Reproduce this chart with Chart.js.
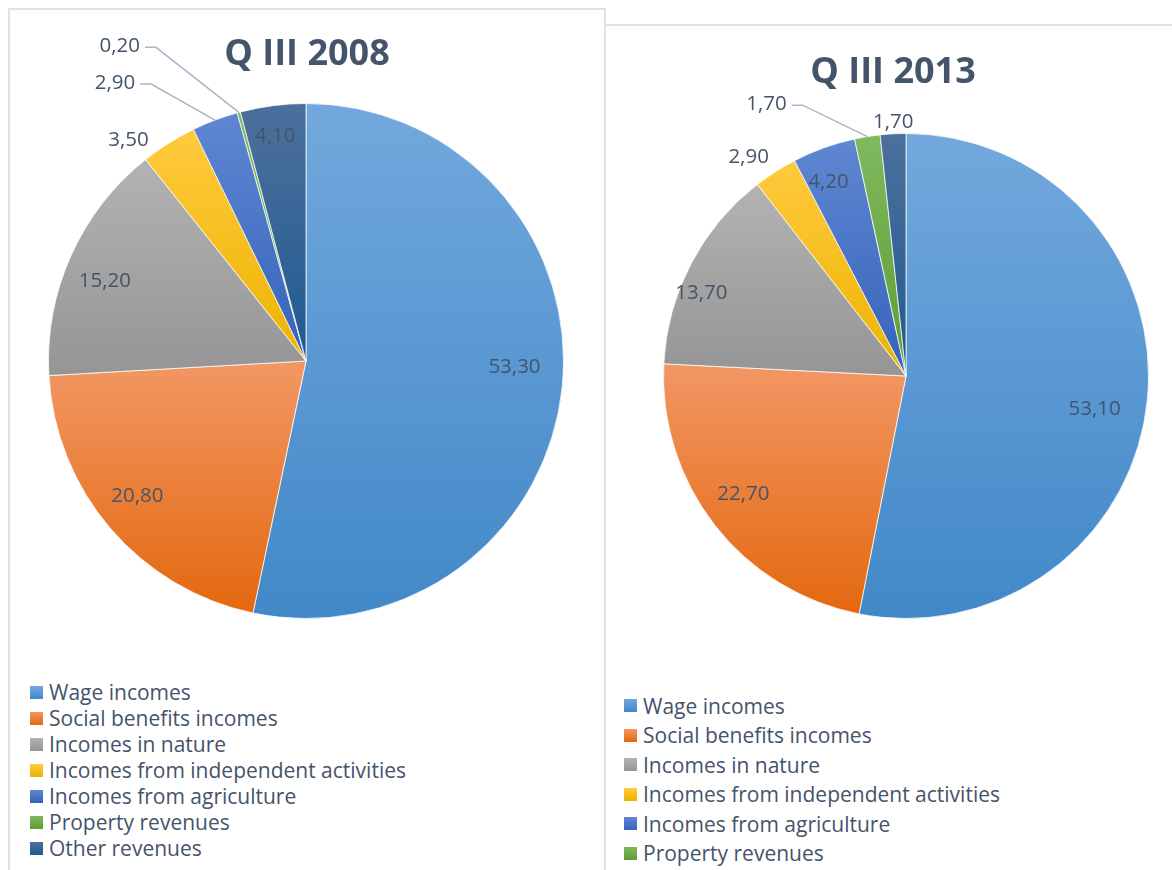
<!DOCTYPE html>
<html><head><meta charset="utf-8">
<script src="https://cdn.jsdelivr.net/npm/chart.js@4.4.1/dist/chart.umd.min.js"></script>
<style>
html,body{margin:0;padding:0;background:#fff;width:1172px;height:870px;overflow:hidden;position:relative;font-family:'Open Sans',sans-serif;}
.panel{position:absolute;box-sizing:border-box;border-color:#DCE2E9;border-style:solid;}
#p1{left:8px;top:8px;width:598px;height:900px;border-width:2px 2px 0 2px;}
#p2{left:604px;top:24px;width:600px;height:900px;border-width:2px 0 0 2px;}
canvas{position:absolute;}
.legend{position:absolute;margin:0;padding:0;list-style:none;color:#44546A;font-size:21px;font-family:'Open Sans',sans-serif;}
.legend li{display:flex;align-items:center;white-space:nowrap;}
.legend i{display:inline-block;width:13px;height:13px;margin-right:6px;flex:none;}
</style></head><body>
<div class="panel" id="p1"></div><div class="panel" id="p2"></div>
<canvas id="c1" width="595" height="640" style="left:10px;top:8px"></canvas>
<canvas id="c2" width="565" height="640" style="left:607px;top:26px"></canvas>
<ul class="legend" id="lg1" style="left:30px;top:679px"></ul>
<ul class="legend" id="lg2" style="left:624px;top:691px"></ul>
<script>
const categories = ['Wage incomes','Social benefits incomes','Incomes in nature','Incomes from independent activities','Incomes from agriculture','Property revenues','Other revenues'];
const values2008 = [53.3, 20.8, 15.2, 3.5, 2.9, 0.2, 4.1];
const values2013 = [53.1, 22.7, 13.7, 2.9, 4.2, 1.7, 1.7];
const title2008 = 'Q III 2008';
const title2013 = 'Q III 2013';
const topColors = ['#72A8DD','#F29764','#B3B3B3','#FFCA3E','#5F87D2','#80B95F','#4D709C'];
const bottomColors = ['#4288C8','#E4680F','#959595','#EDB300','#3563BA','#5E9C34','#1F5A91'];

const fmt = v => v.toFixed(2).replace('.', ',');

function sliceGradient(c){
  const chart = c.chart, a = chart.chartArea;
  const i = c.dataIndex;
  if(!a) return bottomColors[i];
  const data = c.dataset.data; const total = data.reduce((s,v)=>s+v,0);
  let before = 0; for(let j=0;j<i;j++) before += data[j];
  const s = -Math.PI/2 + before/total*2*Math.PI, e = s + data[i]/total*2*Math.PI;
  const cx=(a.left+a.right)/2, cy=(a.top+a.bottom)/2, R=Math.min(a.width,a.height)/2;
  const ys=[cy, cy+R*Math.sin(s), cy+R*Math.sin(e)];
  for(const t of [-Math.PI/2, Math.PI/2, 3*Math.PI/2]) if(t>=s-1e-9 && t<=e+1e-9) ys.push(cy+R*Math.sin(t));
  const y0=Math.min(...ys), y1=Math.max(...ys);
  const g = chart.ctx.createLinearGradient(0,y0,0,Math.max(y1,y0+1));
  g.addColorStop(0, topColors[i]); g.addColorStop(1, bottomColors[i]);
  return g;
}

const panelTitle = {
  id:'panelTitle',
  afterDraw(chart, args, o){
    const a = chart.chartArea, ctx = chart.ctx;
    ctx.save();
    ctx.font = o.font; ctx.fillStyle = o.color; ctx.textAlign='center'; ctx.textBaseline='middle';
    ctx.fillText(o.text, (a.left+a.right)/2 + o.dx, a.top - o.gap);
    ctx.restore();
  }
};

const sliceLabels = {
  id:'sliceLabels',
  afterDatasetsDraw(chart, args, o){
    const meta = chart.getDatasetMeta(0), ctx = chart.ctx;
    ctx.save();
    ctx.font = o.font; ctx.fillStyle = o.color; ctx.textAlign='center'; ctx.textBaseline='middle';
    meta.data.forEach((arc,i)=>{
      const p = o.place[i];
      const {x,y,startAngle,endAngle,outerRadius} = arc.getProps(['x','y','startAngle','endAngle','outerRadius'], true);
      const mid = (startAngle+endAngle)/2;
      const ang = mid + p.da*Math.PI/180;
      const lx = x + Math.cos(ang)*outerRadius*p.k, ly = y + Math.sin(ang)*outerRadius*p.k;
      const txt = fmt(chart.data.datasets[0].data[i]);
      if(p.leader){
        const w = ctx.measureText(txt).width;
        const ex = x + Math.cos(mid)*outerRadius, ey = y + Math.sin(mid)*outerRadius;
        ctx.beginPath();
        ctx.moveTo(lx + w/2 + 5, ly + 1);
        ctx.lineTo(lx + w/2 + 16, ly + 1);
        ctx.lineTo(ex, ey);
        ctx.strokeStyle = o.lineColor; ctx.lineWidth = 1.5; ctx.stroke();
      }
      ctx.fillText(txt, lx, ly);
    });
    ctx.restore();
  }
};

function makeChart(id, values, title, padding, titleOpts, place){
  return new Chart(document.getElementById(id), {
    type:'pie',
    data:{labels:categories, datasets:[{data:values, backgroundColor:sliceGradient, borderColor:'rgba(255,255,255,0.75)', borderWidth:1}]},
    options:{
      responsive:false, animation:false, devicePixelRatio:1,
      layout:{padding:padding},
      plugins:{
        legend:{display:false}, tooltip:{enabled:false},
        panelTitle:Object.assign({text:title, font:'bold 36px "Open Sans"', color:'#44546A'}, titleOpts),
        sliceLabels:{font:'20.5px "Open Sans"', color:'#44546A', lineColor:'#A9B6C7', place:place}
      }
    },
    plugins:[panelTitle, sliceLabels]
  });
}

makeChart('c1', values2008, title2008, {left:38,right:41,top:95,bottom:29}, {dx:1, gap:48}, [
  {da:-4.3,k:0.81},{da:1.9,k:0.84},{da:-2.5,k:0.84},{da:-6.6,k:1.1},
  {da:-13.8,k:1.31,leader:true},{da:-15.5,k:1.42,leader:true},{da:-0.4,k:0.88}
]);
makeChart('c2', values2013, title2013, {left:56,right:23,top:107,bottom:47}, {dx:-13, gap:60}, [
  {da:4.5,k:0.79},{da:1.9,k:0.83},{da:-5.6,k:0.91},{da:-3.2,k:1.11},
  {da:-2,k:0.86},{da:-18,k:1.26,leader:true},{da:0.2,k:1.05}
]);

function buildLegend(id, rowH){
  const ul = document.getElementById(id);
  categories.forEach((c,i)=>{
    const li = document.createElement('li');
    li.style.height = rowH + 'px';
    const sw = document.createElement('i');
    sw.style.background = 'linear-gradient(' + topColors[i] + ',' + bottomColors[i] + ')';
    li.appendChild(sw);
    li.appendChild(document.createTextNode(c));
    ul.appendChild(li);
  });
}
buildLegend('lg1', 26);
buildLegend('lg2', 29.5);
</script>
</body></html>
